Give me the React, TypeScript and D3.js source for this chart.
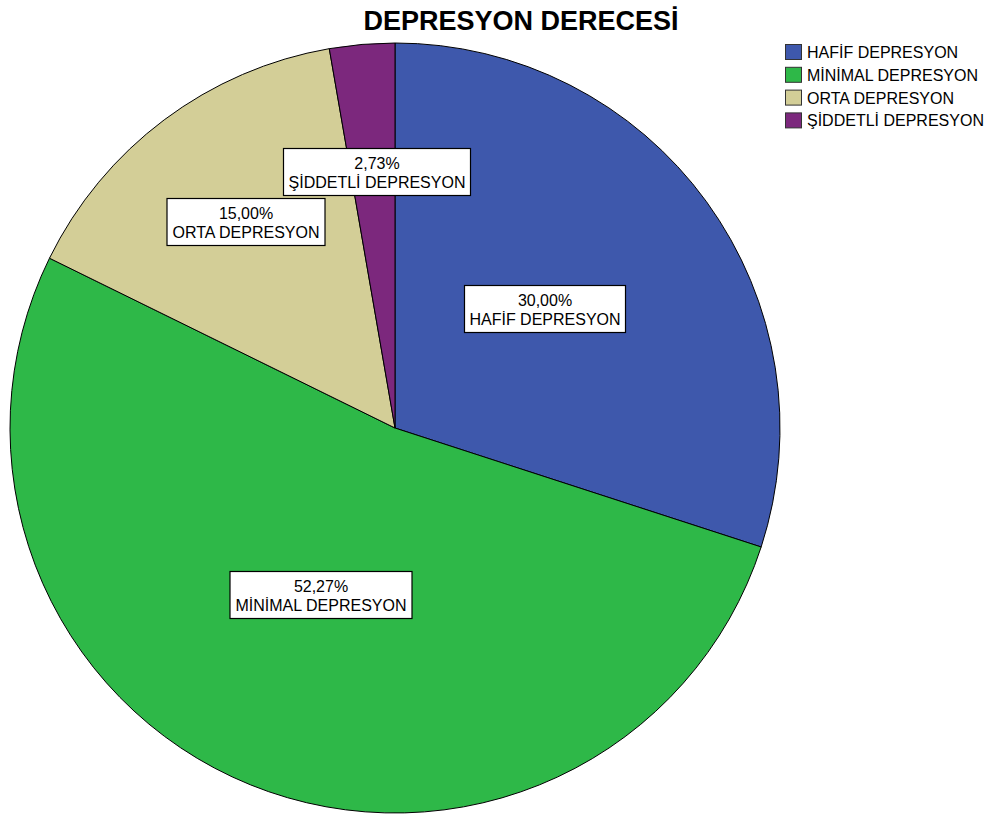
import React from "react";
import * as d3 from "d3";

const categories = ["HAFİF DEPRESYON", "MİNİMAL DEPRESYON", "ORTA DEPRESYON", "ŞİDDETLİ DEPRESYON"];
const percents = [30.0, 52.27, 15.0, 2.73];
const colors = ["#3E58AC", "#2EB848", "#D3CE97", "#7C287D"];
const title = "DEPRESYON DERECESİ";

const W = 992;
const H = 818;
const cx = 395;
const cy = 428;
const R = 385;
const FONT = "'Liberation Sans', Arial, sans-serif";
const LABEL_SIZE = 16;

type Slice = { name: string; value: number; color: string };

let ctx: CanvasRenderingContext2D | null = null;
function textWidth(s: string, size: number): number {
  if (!ctx) ctx = document.createElement("canvas").getContext("2d");
  if (!ctx) return s.length * size * 0.6;
  ctx.font = `${size}px 'Liberation Sans', Arial, sans-serif`;
  return ctx.measureText(s).width;
}

export default function App() {
  const data: Slice[] = categories.map((name, i) => ({ name, value: percents[i], color: colors[i] }));
  const pie = d3.pie<Slice>().value((d) => d.value).sort(null);
  const arcs = pie(data);
  const arc = d3.arc<d3.PieArcDatum<Slice>>().innerRadius(0).outerRadius(R);

  const fmt = (v: number) => v.toFixed(2).replace(".", ",") + "%";

  return (
    <svg width={W} height={H} style={{ display: "block", position: "absolute", left: 0, top: 0 }}>
      <rect width={W} height={H} fill="#fff" />
      <text x={521} y={30} textAnchor="middle" fontFamily={FONT} fontWeight="bold" fontSize={27} fill="#000">
        {title}
      </text>
      <g transform={`translate(${cx},${cy})`}>
        {arcs.map((a, i) => (
          <path key={i} d={arc(a) || ""} fill={a.data.color} stroke="#000" strokeWidth={1} />
        ))}
        {arcs.map((a, i) => {
          const mid = (a.startAngle + a.endAngle) / 2;
          const small = a.data.value < 20;
          const f = small ? 0.665 : 0.49;
          const x = Math.sin(mid) * R * f + (small ? 4 : -3);
          const y = -Math.cos(mid) * R * f + (small ? -1 : -8);
          const label1 = fmt(a.data.value);
          const label2 = a.data.name;
          const tw = Math.max(textWidth(label1, LABEL_SIZE), textWidth(label2, LABEL_SIZE));
          const bw = Math.round(tw + 10);
          const bh = 47;
          return (
            <g key={"l" + i} transform={`translate(${Math.round(x)},${Math.round(y)})`}>
              <rect x={-bw / 2} y={-bh / 2} width={bw} height={bh} fill="#fff" stroke="#000" strokeWidth={1.2} />
              <text y={-3} textAnchor="middle" fontFamily={FONT} fontSize={LABEL_SIZE} fill="#000">
                {label1}
              </text>
              <text y={16} textAnchor="middle" fontFamily={FONT} fontSize={LABEL_SIZE} fill="#000">
                {label2}
              </text>
            </g>
          );
        })}
      </g>
      <g transform="translate(785,44)">
        {data.map((d, i) => (
          <g key={i} transform={`translate(0,${i * 22.8})`}>
            <rect x={0.5} y={0.5} width={16} height={15} fill={d.color} stroke="#333" strokeWidth={1} />
            <text x={22} y={14} fontFamily={FONT} fontSize={16} fill="#000">
              {d.name}
            </text>
          </g>
        ))}
      </g>
    </svg>
  );
}
